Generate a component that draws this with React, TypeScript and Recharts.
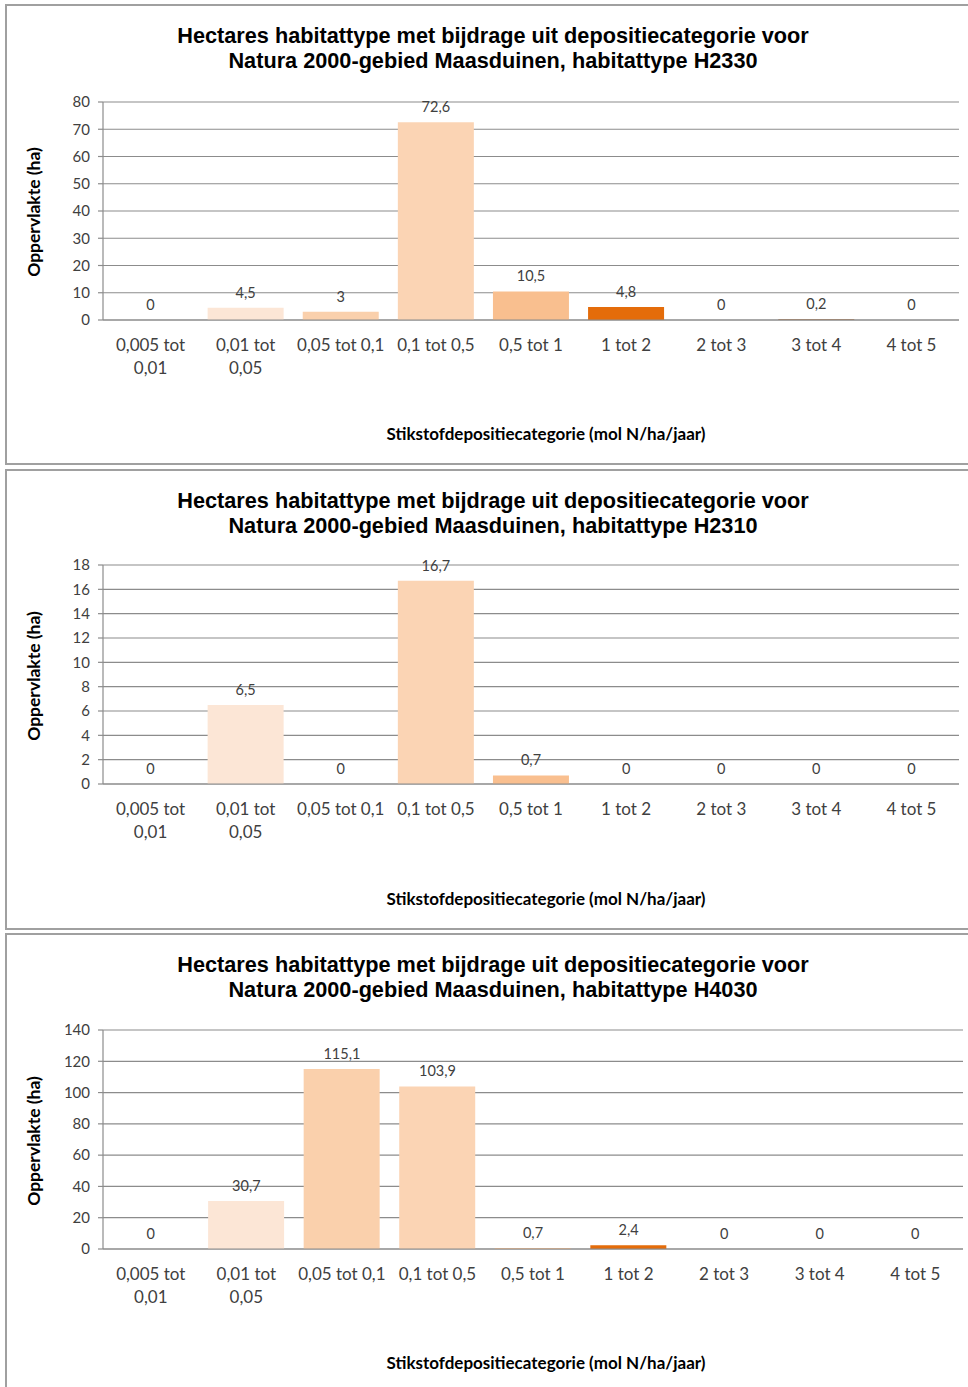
import React from "react";
import { ComposedChart, Bar, Line, XAxis, YAxis, CartesianGrid, Cell, LabelList } from "recharts";

const categories = [
  "0,005 tot\n0,01",
  "0,01 tot\n0,05",
  "0,05 tot 0,1",
  "0,1 tot 0,5",
  "0,5 tot 1",
  "1 tot 2",
  "2 tot 3",
  "3 tot 4",
  "4 tot 5",
];

const barColors = ["#FDE9D9", "#FCE6D6", "#FAD0AC", "#FBD4B4", "#F9BF8F", "#E46C0A", "#B65708", "#974706", "#7A3905"];

const valuesH2330 = [0, 4.5, 3, 72.6, 10.5, 4.8, 0, 0.2, 0];
const valuesH2310 = [0, 6.5, 0, 16.7, 0.7, 0, 0, 0, 0];
const valuesH4030 = [0, 30.7, 115.1, 103.9, 0.7, 2.4, 0, 0, 0];

const ticksH2330 = [0, 10, 20, 30, 40, 50, 60, 70, 80];
const ticksH2310 = [0, 2, 4, 6, 8, 10, 12, 14, 16, 18];
const ticksH4030 = [0, 20, 40, 60, 80, 100, 120, 140];

const boundaryTicks = [0, 1, 2, 3, 4, 5, 6, 7, 8, 9];

const titleLine1 = "Hectares habitattype met bijdrage uit depositiecategorie voor";
const titlePrefix = "Natura 2000-gebied Maasduinen, habitattype ";
const xTitle = "Stikstofdepositiecategorie (mol N/ha/jaar)";
const yTitle = "Oppervlakte (ha)";

const AXIS_GRAY = "#8c8c8c";
const TEXT_GRAY = "#404040";
const CAL = "Lato, 'Open Sans', sans-serif";

const CatTick = (props: any) => {
  const { x, y, payload } = props;
  const lines = String(payload.value).split("\n");
  return (
    <g>
      {lines.map((l: string, i: number) => (
        <text
          key={i}
          x={x}
          y={y + 24 + i * 23}
          textAnchor="middle"
          dominantBaseline="central"
          fill={TEXT_GRAY}
          fontSize={17}
          fontFamily={CAL}
        >
          {l}
        </text>
      ))}
    </g>
  );
};

type PanelProps = {
  top: number;
  habitat: string;
  values: number[];
  yTicks: number[];
  plotTop: number;
  plotBottom: number;
  rightMargin: number;
};

const PANEL_H = 460;

const Panel = ({ top, habitat, values, yTicks, plotTop, plotBottom, rightMargin }: PanelProps) => {
  const data = categories.map((c, i) => ({ cat: c, value: values[i] }));
  const ymax = yTicks[yTicks.length - 1];
  return (
    <>
      <div
        style={{
          position: "absolute",
          left: 5,
          top: top,
          width: 980,
          height: PANEL_H + 1,
          border: "2px solid #a0a0a0",
          boxSizing: "border-box",
          background: "#fff",
        }}
      />
      <div
        style={{
          position: "absolute",
          left: 93,
          width: 800,
          top: top + 19,
          textAlign: "center",
          fontFamily: "'Liberation Sans', Arial, sans-serif",
          fontWeight: "bold",
          fontSize: 21.7,
          lineHeight: "25px",
          color: "#000",
          whiteSpace: "nowrap",
        }}
      >
        {titleLine1}
        <br />
        {titlePrefix + habitat}
      </div>
      <div style={{ position: "absolute", left: 0, top: top }}>
        <ComposedChart
          width={968}
          height={PANEL_H}
          data={data}
          margin={{ top: plotTop, right: rightMargin, left: 0, bottom: 0 }}
          barCategoryGap="10%"
        >
          <CartesianGrid horizontal={true} vertical={false} stroke={AXIS_GRAY} strokeWidth={1.2} xAxisId="cat" />
          <XAxis
            xAxisId="bnd"
            type="number"
            domain={[0, 9]}
            ticks={boundaryTicks}
            height={0}
            axisLine={false}
            tickLine={{ stroke: AXIS_GRAY, strokeWidth: 1.2 }}
            tickSize={5}
            tickFormatter={() => ""}
            allowDataOverflow
          />
          <XAxis
            xAxisId="cat"
            dataKey="cat"
            height={PANEL_H - plotBottom}
            axisLine={{ stroke: AXIS_GRAY, strokeWidth: 1.2 }}
            tickLine={false}
            tickSize={0}
            tickMargin={0}
            interval={0}
            tick={<CatTick />}
          />
          <YAxis
            width={103}
            domain={[0, ymax]}
            ticks={yTicks}
            interval={0}
            axisLine={{ stroke: AXIS_GRAY, strokeWidth: 1.2 }}
            tickLine={{ stroke: AXIS_GRAY, strokeWidth: 1.2 }}
            tickSize={5}
            tickMargin={8}
            tick={{ fill: TEXT_GRAY, fontSize: 15, fontFamily: CAL }}
          />
          <Bar dataKey="value" xAxisId="cat" isAnimationActive={false}>
            {data.map((d, i) => (
              <Cell key={i} fill={barColors[i]} />
            ))}
          </Bar>
          <Line
            dataKey="value"
            xAxisId="cat"
            stroke="none"
            dot={false}
            activeDot={false}
            isAnimationActive={false}
          >
            <LabelList
              dataKey="value"
              position="top"
              offset={10}
              fill={TEXT_GRAY}
              fontSize={14.5}
              fontFamily={CAL}
              formatter={(v: any) => String(v).replace(".", ",")}
            />
          </Line>
        </ComposedChart>
      </div>
      <div
        style={{
          position: "absolute",
          left: 296,
          width: 500,
          top: top + 420,
          textAlign: "center",
          fontFamily: CAL,
          fontWeight: "bold",
          fontSize: 17,
          lineHeight: "20px",
          color: "#000",
        }}
      >
        {xTitle}
      </div>
      <div
        style={{
          position: "absolute",
          left: 34 - 100,
          width: 200,
          top: top + plotTop + (plotBottom - plotTop) / 2 - 10 + 1,
          textAlign: "center",
          fontFamily: CAL,
          fontWeight: "bold",
          fontSize: 17.5,
          lineHeight: "20px",
          color: "#000",
          transform: "rotate(-90deg)",
        }}
      >
        {yTitle}
      </div>
    </>
  );
};

export default function App() {
  return (
    <div
      style={{
        position: "absolute",
        left: 0,
        top: 0,
        width: 968,
        height: 1387,
        overflow: "hidden",
        background: "#fff",
      }}
    >
      <Panel top={4} habitat="H2330" values={valuesH2330} yTicks={ticksH2330} plotTop={98} plotBottom={316} rightMargin={9} />
      <Panel top={469} habitat="H2310" values={valuesH2310} yTicks={ticksH2310} plotTop={96} plotBottom={315} rightMargin={9} />
      <Panel top={933} habitat="H4030" values={valuesH4030} yTicks={ticksH4030} plotTop={97} plotBottom={316} rightMargin={5} />
    </div>
  );
}
